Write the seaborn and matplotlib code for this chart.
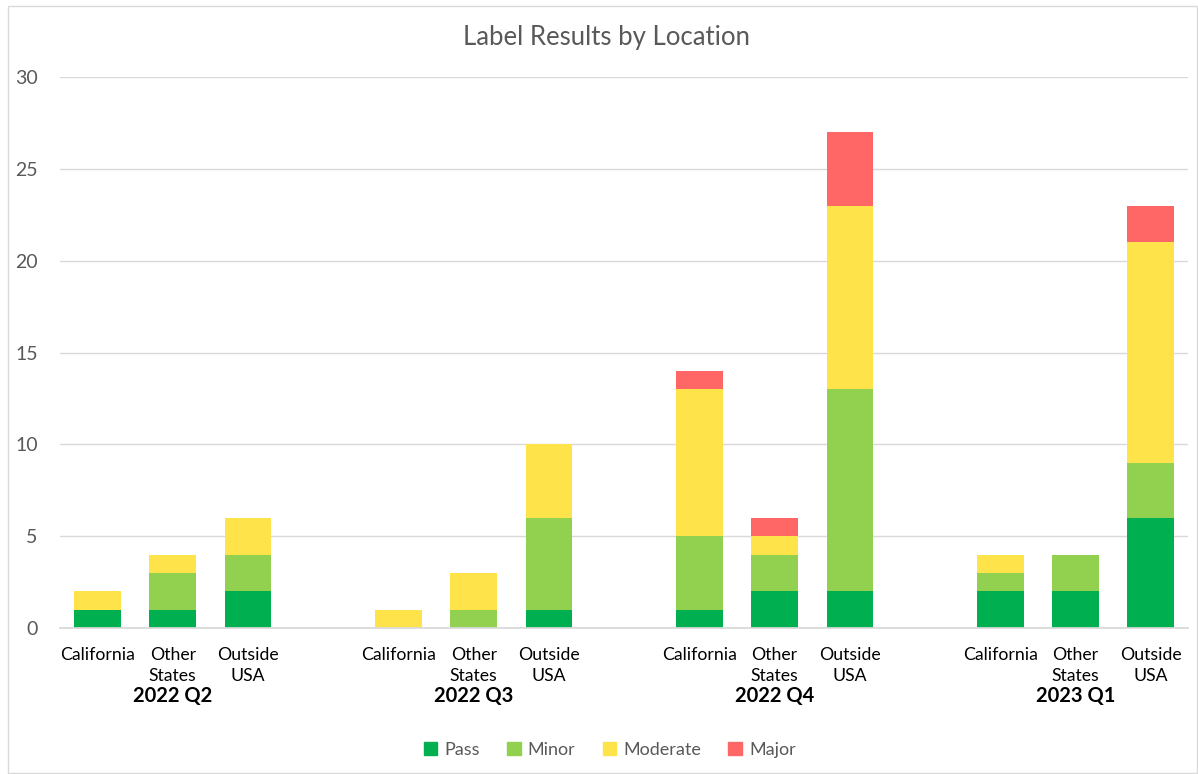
import matplotlib.pyplot as plt
import matplotlib.patches as mpatches
import numpy as np
import seaborn as sns

quarters = ["2022 Q2", "2022 Q3", "2022 Q4", "2023 Q1"]
locations = ["California", "Other\nStates", "Outside\nUSA"]
series = ["Pass", "Minor", "Moderate", "Major"]

# one value per bar, ordered quarter by quarter, location by location
passed   = [1, 1, 2,   0, 0, 1,   1, 2, 2,    2, 2, 6]
minor    = [0, 2, 2,   0, 1, 5,   4, 2, 11,   1, 2, 3]
moderate = [1, 1, 2,   1, 2, 4,   8, 1, 10,   1, 0, 12]
major    = [0, 0, 0,   0, 0, 0,   1, 1, 4,    0, 0, 2]

colors = ["#00b050", "#92d050", "#ffe34a", "#ff6666"]

sns.set_theme(style="white")
plt.rcParams['font.family'] = ['Lato', 'DejaVu Sans']

fig = plt.figure(figsize=(11.98, 7.74), dpi=100)
ax = fig.add_axes([0.050, 0.1886, 0.942, 0.7119])

# slot positions: 3 bars per quarter, then one empty slot
pos = np.array([q * 4 + i for q in range(len(quarters)) for i in range(3)], dtype=float)

layers = [passed, minor, moderate, major]
cum = np.cumsum(np.array(layers, dtype=float), axis=0)
# draw tallest cumulative first so lower layers paint over it
for k in range(len(layers) - 1, -1, -1):
    sns.barplot(x=pos, y=cum[k], color=colors[k], native_scale=True,
                width=0.62, saturation=1, linewidth=0, ax=ax, zorder=2)

ax.set_xlim(-0.5, 14.5)
ax.set_ylim(0, 30)
ax.set_yticks(range(0, 31, 5))
ax.yaxis.grid(True, color="#d9d9d9", linewidth=1, zorder=0)
ax.set_axisbelow(True)
for s in ["top", "right", "left"]:
    ax.spines[s].set_visible(False)
ax.spines["bottom"].set_color("#d9d9d9")
ax.tick_params(axis="y", length=0, labelsize=14, labelcolor="#595959", pad=16)
ax.set_xticks(pos)
ax.set_xticklabels(locations * len(quarters), fontsize=12.7, color="#000000",
                   linespacing=1.38, va="top")
ax.tick_params(axis="x", length=0, pad=14)
ax.set_xlabel("")
ax.set_ylabel("")

for q, name in enumerate(quarters):
    ax.text(q * 4 + 1, -3.72, name, ha="center", va="center", fontsize=14.5,
            fontweight="bold", color="#000000")

fig.text(0.506, 0.951, "Label Results by Location", ha="center", va="center",
         fontsize=18.5, color="#595959")

handles = [mpatches.Patch(color=c, label=s) for c, s in zip(colors, series)]
fig.legend(handles=handles, loc="center", bbox_to_anchor=(0.509, 0.031), ncol=4,
           frameon=False, fontsize=13, handlelength=0.75, handleheight=0.75,
           handletextpad=0.4, columnspacing=1.5, labelcolor="#595959")

fig.add_artist(mpatches.Rectangle((0.007, 0.001), 0.992, 0.991, transform=fig.transFigure,
                                  fill=False, edgecolor="#d9d9d9", linewidth=1))

fig.savefig("out.png", dpi=100)
